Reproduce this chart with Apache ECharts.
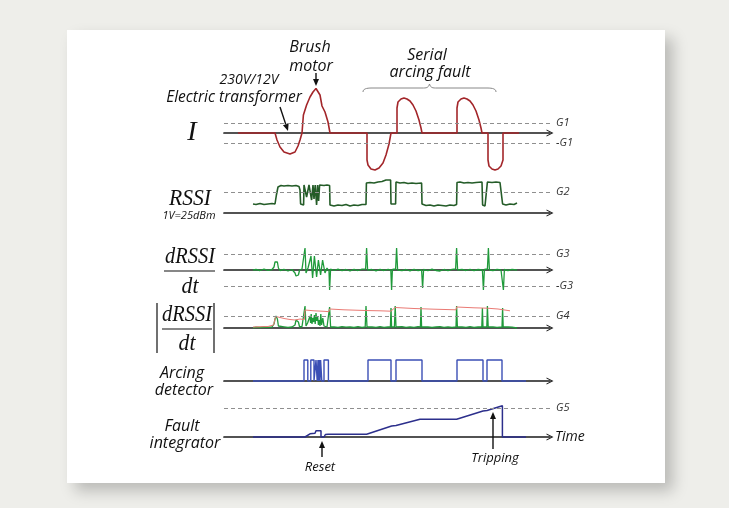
<!DOCTYPE html>
<html>
<head>
<meta charset="utf-8">
<title>Serial arcing fault detection</title>
<script src="https://cdn.jsdelivr.net/npm/echarts@6/dist/echarts.min.js"></script>
<style>
  html, body { margin: 0; padding: 0; background: #eeeeea; }
  #chart { width: 729px; height: 508px; }
</style>
</head>
<body>
<div id="chart"></div>
<script>
// time axis in ms (arbitrary), every panel shares it
const timeMax = 163;

// current I, in G1 units
const currentI = [
  [7, 0], [25.5, 0], [26.5, -0.7], [28, -1.4], [30, -1.9], [33, -2.1], [35.5, -1.9], [37, -1.3], [38, -0.7], [39, 0],
  [39.7, 1.8], [41.3, 2.8], [43, 3.6], [44.5, 4.1], [46, 4.45], [47, 4.5], [48, 3.8], [49, 2.7], [50.5, 2.1], [52, 1.1], [53, 0],
  [71.5, 0], [71.5, -2.7], [72, -3.2], [73.5, -3.6], [75.5, -3.7], [77.5, -3.5], [79.5, -3.0], [81, -2.2], [82.5, -1.1], [83.5, 0],
  [86.5, 0], [86.5, 2.5], [87, 3.1], [88.5, 3.4], [90, 3.5], [91.5, 3.4], [93, 3.2], [94.5, 2.8], [96, 2.2], [97.5, 1.3], [98.5, 0.5], [99, 0],
  [116.5, 0], [116.5, 2.5], [117, 3.1], [118.5, 3.4], [120, 3.5], [121.5, 3.4], [123, 3.2], [124.5, 2.8], [126, 2.2], [127.5, 1.3], [128.5, 0.5], [129, 0],
  [132, 0], [132, -2.7], [132.5, -3.3], [134, -3.6], [135.5, -3.7], [137, -3.6], [138.5, -3.3], [139.5, -2.7], [139.5, 0], [147.5, 0]
];

// RSSI (1V = 25dBm)
const rssi = [
  [14.5, 0.9], [16, 0.85], [18, 0.95], [20, 0.85], [22, 0.9], [24, 0.95], [25.5, 0.9], [26.2, 1.8], [27, 2.6], [28.5, 2.75],
  [30, 2.7], [32, 2.75], [34, 2.7], [36, 2.75], [37.5, 2.65], [38, 2.3], [38.3, 0.9], [39, 0.7], [39.8, 0.8], [40, 2.8],
  [41, 2.8], [41.3, 1.6], [42, 1.7], [42.5, 2.8], [43.5, 2.7], [43.8, 1.3], [44.5, 2.8], [45, 1.4], [45.6, 2.8], [46.3, 0.8],
  [46.8, 2.8], [47.3, 1.2], [47.8, 2.8], [48.5, 2.8], [50, 2.75], [51.5, 2.8], [52.8, 2.75], [53, 0.8], [55, 0.7], [57, 0.8],
  [59, 0.75], [61, 0.85], [63, 0.7], [65, 0.8], [67, 0.75], [69, 0.85], [71, 0.85], [71.2, 3.0], [73, 3.05], [75, 3.0],
  [77, 3.1], [79, 3.15], [81, 3.3], [83.3, 3.3], [83.5, 0.9], [84.5, 0.8], [85.8, 0.9], [86, 3.1], [88, 3.0], [90, 3.05],
  [92, 2.95], [94, 3.0], [96, 2.95], [98.8, 3.0], [99, 0.9], [101, 0.75], [103, 0.8], [105, 0.7], [107, 0.8], [109, 0.75],
  [111, 0.7], [113, 0.8], [115, 0.75], [116.3, 0.85], [116.5, 3.05], [118, 3.1], [120, 3.0], [122, 3.05], [124, 3.0], [126, 3.05],
  [129, 3.1], [129.3, 0.8], [130.5, 0.7], [131.5, 0.9], [131.7, 3.1], [134, 3.05], [136, 3.1], [138, 3.05], [139, 3.1], [139.3, 0.9],
  [141, 0.8], [143, 0.9], [145, 0.85], [146.5, 1.0]
];

// dRSSI/dt
const dRssi = [
  [14.5, 0], [16, 0.05], [18, -0.05], [20, 0.08], [22, -0.04], [24, 0.05], [25, 0.3], [25.5, 0.8], [26, 1.0], [26.7, 0.8],
  [27.2, 0.2], [28, -0.05], [30, 0.06], [32, -0.1], [34, 0.05], [35.5, -0.3], [36, -0.6], [36.5, -0.7], [37.2, -0.5], [37.8, 0],
  [39, 0.1], [40, -0.1], [40.5, 2.2], [41, -0.3], [42, 0.2], [43.5, 1.4], [44.3, -0.8], [45.2, 1.4], [46.3, -0.7], [47.2, 1.0],
  [48.3, -0.5], [49.3, 1.0], [50.5, -0.3], [51.5, 0.2], [52.5, -0.1], [52.8, -2.0], [53.3, 0.1], [55, -0.05], [57, 0.08], [59, -0.06],
  [61, 0.05], [63, -0.1], [65, 0.06], [67, -0.05], [69, 0.08], [70.8, 0.1], [71.3, 2.2], [71.8, 0], [74, 0.05], [76, -0.08],
  [78, 0.06], [80, -0.05], [82, 0.07], [83.4, 0], [83.8, -2.0], [84.2, 0.05], [85.8, 0.1], [86.3, 2.2], [86.8, 0], [89, -0.06],
  [91, 0.05], [93, -0.08], [95, 0.06], [97, -0.05], [98.8, 0], [99.3, -1.8], [99.8, 0.05], [102, -0.06], [104, 0.08], [106, -0.05],
  [108, -0.1], [110, 0.05], [112, -0.06], [114, 0.07], [115.8, 0.1], [116.3, 2.2], [116.8, 0], [119, 0.06], [121, -0.05], [123, 0.07],
  [125, -0.06], [127, 0.05], [129.2, 0], [129.7, -2.0], [130.2, 0.05], [131.7, 0.1], [132.2, 2.2], [132.7, 0], [134.5, -0.06], [136.5, 0.07],
  [138.5, 0], [139.2, -0.1], [139.7, -2.0], [140.2, 0.05], [142, -0.05], [144, 0.06], [146.5, 0]
];

// |dRSSI/dt|
const absDRssi = [
  [14.5, 0], [16, 0.08], [18, 0.05], [20, 0.1], [22, 0.06], [24, 0.1], [25, 0.4], [25.5, 0.9], [26, 1.2], [26.7, 0.9],
  [27.2, 0.2], [28, 0.08], [30, 0.12], [32, 0.06], [34, 0.1], [35.5, 0.3], [36, 0.8], [36.5, 1.0], [37.2, 0.6], [37.8, 0.1],
  [39, 0.15], [40, 0.1], [40.5, 2.2], [41, 0.2], [41.8, 0.5], [42.3, 0.3], [43, 1.2], [43.3, 0.5], [43.6, 1.4], [44, 0.4],
  [44.4, 1.0], [44.8, 0.6], [45.2, 1.3], [45.6, 0.4], [46, 1.5], [46.4, 0.7], [46.8, 1.2], [47.2, 0.3], [47.6, 0.8], [48, 0.2],
  [48.4, 1.4], [48.8, 0.3], [49.4, 1.0], [50, 0.2], [50.6, 0.4], [51.5, 0.1], [52.3, 0.2], [52.8, 2.1], [53.3, 0.1], [55, 0.12],
  [57, 0.06], [59, 0.14], [61, 0.08], [63, 0.12], [65, 0.05], [67, 0.13], [69, 0.07], [70.6, 0.1], [71, 2.2], [71.5, 0.1],
  [74, 0.12], [76, 0.06], [78, 0.14], [80, 0.07], [82, 0.1], [83.2, 0.1], [83.5, 2.0], [83.8, 0.1], [85.2, 0.1], [85.6, 2.2],
  [86, 0.1], [89, 0.13], [91, 0.06], [93, 0.12], [95, 0.07], [97, 0.13], [98.2, 0.1], [98.5, 2.1], [98.8, 0.1], [102, 0.12],
  [104, 0.06], [106, 0.1], [108, 0.14], [110, 0.07], [112, 0.12], [114, 0.06], [116, 0.1], [116.3, 2.2], [116.7, 0.1], [119, 0.12],
  [121, 0.06], [123, 0.13], [125, 0.07], [127, 0.1], [128.9, 0.1], [129.2, 2.0], [129.5, 0.1], [131.4, 0.1], [131.7, 2.2], [132.1, 0.1],
  [134.5, 0.12], [136.5, 0.06], [139, 0.1], [139.3, 2.0], [139.6, 0.1], [142, 0.12], [144, 0.08], [146.5, 0]
];

// peak-hold envelope of |dRSSI/dt|
const envelope = [
  [14.5, 0.1], [22, 0.15], [24.8, 0.3], [25.5, 0.9], [26, 1.15], [28, 1.05], [30, 0.95], [33, 0.85], [35.5, 0.8], [36.5, 0.95],
  [38, 0.9], [40.2, 0.85], [40.5, 1.8], [45, 1.72], [50, 1.67], [52.5, 1.63], [52.8, 1.9], [60, 1.82], [70.6, 1.75], [71, 1.8],
  [78, 1.72], [83.4, 1.68], [85.6, 2.05], [95, 1.95], [105, 1.88], [116, 1.82], [116.3, 2.1], [125, 2.02], [131.6, 1.98], [131.7, 2.03],
  [137, 1.9], [143, 1.72]
];

// arcing detector output
const arcing = [
  [14.5, 0], [40, 0], [40, 2.1], [41.9, 2.1], [41.9, 0], [43.4, 0], [43.4, 2.1], [45, 2.1], [45, 0], [46, 0],
  [46, 2.1], [46.6, 2.1], [46.6, 0], [47, 0], [47, 2.1], [47.3, 2.1], [47.3, 0], [47.6, 0], [47.6, 2.1], [48, 2.1],
  [48, 0], [48.3, 0], [48.3, 2.1], [48.9, 2.1], [48.9, 0], [50, 0], [50, 2.1], [52.2, 2.1], [52.2, 0], [72, 0],
  [72, 2.1], [83.5, 2.1], [83.5, 0], [86, 0], [86, 2.1], [99, 2.1], [99, 0], [116.5, 0], [116.5, 2.1], [129.5, 2.1],
  [129.5, 0], [131.5, 0], [131.5, 2.1], [139, 2.1], [139, 0], [151, 0]
];

// fault integrator
const integrator = [
  [14.5, 0], [40.5, 0], [41.5, 0.2], [43, 0.32], [45.5, 0.37], [46, 0.62], [48.5, 0.62], [48.5, 0], [50, 0], [50.7, 0.25],
  [52, 0.28], [71.3, 0.28], [83.8, 1.1], [86, 1.15], [98, 1.77], [116.3, 1.77], [129.5, 2.6], [131.5, 2.65], [139.2, 3.12], [139.2, 0],
  [151, 0]
];

// thresholds per panel
const gI = [1, -1];
const gILabels = ['G1', '-G1'];
const gRssi = [2.1];
const gRssiLabels = ['G2'];
const gD = [1.6, -1.6];
const gDLabels = ['G3', '-G3'];
const gAbs = [1.2];
const gAbsLabels = ['G4'];
const gInt = [2.9];
const gIntLabels = ['G5'];

const chart = echarts.init(document.getElementById('chart'));

// panel layout: [top, height, yMin, yMax]
const panels = [
  [83, 90, -4, 5],
  [173, 50, -1, 4],
  [240, 60, -3, 3],
  [298, 40, -1, 3],
  [351, 40, -1, 3],
  [397, 50, -1, 4]
];

const axisColor = '#1a1a1a';
const sans = "'Open Sans', 'Noto Sans', sans-serif";
const serif = "'Liberation Serif', 'DejaVu Serif', serif";

function guides(values, labels) {
  return {
    silent: true,
    symbol: 'none',
    animation: false,
    lineStyle: { color: '#8f8f8f', type: [4, 3], width: 1 },
    label: {
      show: true,
      position: 'end',
      distance: 6,
      color: '#333',
      fontSize: 11,
      fontStyle: 'italic',
      fontFamily: sans,
      formatter: (p) => labels[p.dataIndex]
    },
    data: values.map((v) => ({ yAxis: v }))
  };
}

function signal(idx, data, color, width, marks) {
  const s = {
    type: 'line',
    xAxisIndex: idx,
    yAxisIndex: idx,
    data: data,
    symbol: 'none',
    animation: false,
    lineStyle: { color: color, width: width },
    z: 3
  };
  if (marks) s.markLine = marks;
  return s;
}

function text(str, x, y, font, align, sx) {
  return {
    type: 'text',
    z: 5,
    x: x,
    y: y,
    scaleX: sx || 1,
    style: {
      text: str, x: 0, y: 0, font: font, fill: '#111',
      textAlign: align || 'center', textVerticalAlign: 'middle',
      align: align || 'center', verticalAlign: 'middle'
    }
  };
}

function line(x1, y1, x2, y2, color, w) {
  return { type: 'line', z: 5, shape: { x1, y1, x2, y2 }, style: { stroke: color || '#111', lineWidth: w || 1.2 } };
}

function arrow(x1, y1, x2, y2) {
  const a = Math.atan2(y2 - y1, x2 - x1);
  const L = 7, W = 3;
  const bx = x2 - L * Math.cos(a), by = y2 - L * Math.sin(a);
  return [
    line(x1, y1, bx, by, '#111', 1.4),
    {
      type: 'polygon', z: 5,
      shape: { points: [[x2, y2], [bx + W * Math.sin(a), by - W * Math.cos(a)], [bx - W * Math.sin(a), by + W * Math.cos(a)]] },
      style: { fill: '#111' }
    }
  ];
}

function brace(x1, x2, yEnd, yFlat, yTip) {
  const mid = (x1 + x2) / 2;
  const curve = (sx, sy, c1x, c1y, c2x, c2y, ex, ey) => ({
    type: 'bezierCurve', z: 5,
    shape: { x1: sx, y1: sy, cpx1: c1x, cpy1: c1y, cpx2: c2x, cpy2: c2y, x2: ex, y2: ey },
    style: { stroke: '#888', lineWidth: 1, fill: null }
  });
  return [
    curve(x1, yEnd, x1, yFlat + 1, x1 + 3, yFlat, x1 + 9, yFlat),
    line(x1 + 9, yFlat, mid - 6, yFlat, '#888', 1),
    curve(mid - 6, yFlat, mid - 2, yFlat, mid - 1, yFlat - 1, mid, yTip),
    curve(mid, yTip, mid + 1, yFlat - 1, mid + 2, yFlat, mid + 6, yFlat),
    line(mid + 6, yFlat, x2 - 9, yFlat, '#888', 1),
    curve(x2 - 9, yFlat, x2 - 3, yFlat, x2, yFlat + 1, x2, yEnd)
  ];
}

const option = {
  backgroundColor: '#eeeeea',
  grid: panels.map((p) => ({ left: 224, width: 326, top: p[0], height: p[1] })),
  xAxis: panels.map((p, i) => ({
    type: 'value',
    gridIndex: i,
    min: 0,
    max: timeMax,
    axisLine: {
      show: true,
      onZero: true,
      symbol: ['none', 'path://M0,10 L5,0 L10,10 L8.4,10 L5,3 L1.6,10 Z'],
      symbolSize: [11, 7],
      lineStyle: { color: axisColor, width: 1.7 }
    },
    axisTick: { show: false },
    axisLabel: { show: false },
    splitLine: { show: false }
  })),
  yAxis: panels.map((p, i) => ({
    type: 'value',
    gridIndex: i,
    min: p[2],
    max: p[3],
    show: false,
    splitLine: { show: false }
  })),
  series: [
    signal(0, currentI, '#a3262a', 1.6, guides(gI, gILabels)),
    signal(1, rssi, '#245c28', 1.6, guides(gRssi, gRssiLabels)),
    signal(2, dRssi, '#1f9a3a', 1.3, guides(gD, gDLabels)),
    signal(3, absDRssi, '#1f9a3a', 1.3, guides(gAbs, gAbsLabels)),
    signal(3, envelope, '#ea7a74', 1, null),
    signal(4, arcing, '#3b4fb5', 1.4, null),
    signal(5, integrator, '#2c2f8c', 1.5, guides(gInt, gIntLabels))
  ],
  graphic: {
    elements: [
      {
        type: 'rect', z: -10,
        shape: { x: 67, y: 30, width: 598, height: 453 },
        style: { fill: '#ffffff', shadowBlur: 14, shadowOffsetX: 8, shadowOffsetY: 8, shadowColor: 'rgba(0,0,0,0.22)' }
      },
      text('Brush', 310, 47, 'italic 16px ' + sans),
      text('motor', 311, 66, 'italic 16px ' + sans),
      text('230V/12V', 249, 80, 'italic 14px ' + sans),
      text('Electric transformer', 234, 97, 'italic 16px ' + sans, 'center', 0.97),
      text('Serial', 427, 55, 'italic 16px ' + sans),
      text('arcing fault', 430, 72, 'italic 16px ' + sans),
      ...arrow(316, 73, 316, 86),
      ...arrow(280, 107, 288, 131),
      ...brace(363, 496, 92, 88, 84),

      text('I', 192, 133, 'italic 28px ' + serif),
      text('RSSI', 190, 199, 'italic 24px ' + serif, 'center', 0.9),
      text('1V=25dBm', 189, 216, 'italic 11px ' + sans),

      text('dRSSI', 190, 257, 'italic 24px ' + serif, 'center', 0.85),
      line(164, 271, 215, 271, '#111', 1.2),
      text('dt', 190, 287, 'italic 24px ' + serif, 'center', 0.9),

      text('dRSSI', 187, 315, 'italic 24px ' + serif, 'center', 0.85),
      line(162, 329, 212, 329, '#111', 1.2),
      text('dt', 187, 344, 'italic 24px ' + serif, 'center', 0.9),
      line(157, 303, 157, 353, '#111', 1.2),
      line(214, 303, 214, 353, '#111', 1.2),

      text('Arcing', 182, 373, 'italic 16px ' + sans),
      text('detector', 184, 390, 'italic 16px ' + sans),
      text('Fault', 182, 426, 'italic 16px ' + sans),
      text('integrator', 185, 443, 'italic 16px ' + sans),
      text('Time', 555, 437, 'italic 14px ' + sans, 'left'),

      text('Reset', 320, 467, 'italic 13px ' + sans),
      ...arrow(322, 457, 322, 441),
      text('Tripping', 495, 458, 'italic 13px ' + sans),
      ...arrow(493, 449, 493, 412)
    ]
  }
};

chart.setOption(option);
</script>
</body>
</html>
